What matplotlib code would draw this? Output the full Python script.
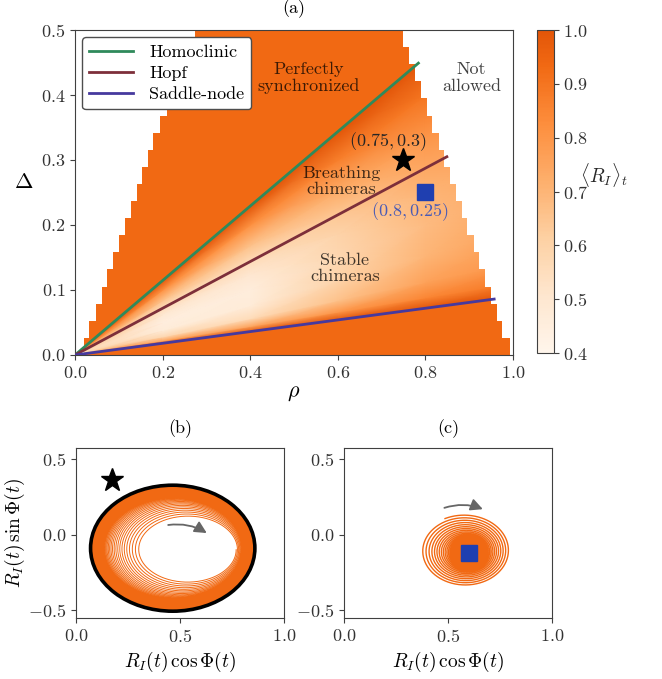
import numpy as np
import matplotlib
matplotlib.use('Agg')
import matplotlib.pyplot as plt
from matplotlib.colors import ListedColormap, Normalize
from matplotlib.path import Path
from matplotlib.patches import PathPatch, Ellipse
from matplotlib.cm import ScalarMappable

plt.rcParams.update({
    'font.family': 'serif',
    'font.serif': ['cmr10'],
    'mathtext.fontset': 'cm',
    'axes.formatter.use_mathtext': True,
    'font.size': 13,
    'axes.edgecolor': '0.25',
    'xtick.color': '0.25',
    'ytick.color': '0.25',
    'xtick.labelcolor': '0.2',
    'ytick.labelcolor': '0.2',
})

# ---- panel (a) data ----
# allowed region: rows of cells of height 0.5/19 in Delta, left/right rho bound of each row
row_h = 0.5 / 19
left_bound = [0.020, 0.033, 0.048, 0.061, 0.074, 0.087, 0.100, 0.114, 0.128, 0.141,
              0.154, 0.167, 0.179, 0.193, 0.209, 0.225, 0.241, 0.257, 0.274]
right_bound = [0.994, 0.976, 0.963, 0.950, 0.936, 0.923, 0.910, 0.896, 0.883, 0.870,
               0.856, 0.843, 0.830, 0.816, 0.803, 0.790, 0.776, 0.763, 0.750]

# bifurcation lines
homoclinic_rho, homoclinic_delta = [0.0, 0.784], [0.0, 0.449]
hopf_rho, hopf_delta = [0.0, 0.849], [0.0, 0.305]
saddle_rho, saddle_delta = [0.0, 0.957], [0.0, 0.086]

# <R_I>_t inside the chimera wedge: rows = Delta/rho, columns = rho
wedge_ratio = [0.0899, 0.11, 0.14, 0.19, 0.25, 0.31, 0.359, 0.42, 0.50, 0.5727]
wedge_rho = [0.0, 0.2, 0.4, 0.6, 0.8, 1.0]
wedge_R = [
    [1.00, 1.00, 1.00, 1.00, 1.00, 1.00],
    [0.85, 0.75, 0.75, 0.80, 0.85, 0.88],
    [0.72, 0.58, 0.56, 0.66, 0.76, 0.80],
    [0.62, 0.47, 0.47, 0.60, 0.70, 0.76],
    [0.60, 0.45, 0.46, 0.58, 0.68, 0.74],
    [0.63, 0.49, 0.50, 0.60, 0.70, 0.76],
    [0.68, 0.56, 0.56, 0.64, 0.74, 0.80],
    [0.76, 0.66, 0.66, 0.73, 0.80, 0.85],
    [0.88, 0.82, 0.82, 0.87, 0.90, 0.92],
    [1.00, 1.00, 1.00, 1.00, 1.00, 1.00],
]

star_pt = (0.75, 0.3)
square_pt = (0.8, 0.25)

# ---- panel (b) / (c) data ----
b_inner_c, b_inner_ab = (0.54, -0.10), (0.23, 0.21)
b_outer_c, b_outer_ab = (0.465, -0.09), (0.395, 0.415)
b_star = (0.172, 0.358)
c_outer_c, c_outer_ab = (0.58, -0.106), (0.215, 0.235)
c_fixed = (0.603, -0.122)

orange = '#f16913'
cmap = ListedColormap(plt.cm.Oranges(np.linspace(0, 0.7, 256)))
norm = Normalize(0.4, 1.0)

fig = plt.figure(figsize=(6.62, 6.79), dpi=100)
ax = fig.add_axes([0.1133, 0.4772, 0.6616, 0.4786])
cax = fig.add_axes([0.8112, 0.4801, 0.0251, 0.4757])
axb = fig.add_axes([0.1148, 0.0898, 0.3142, 0.2504])
axc = fig.add_axes([0.5196, 0.0898, 0.3142, 0.2504])

# staircase outline of the allowed region
verts = []
for k, lb in enumerate(left_bound):
    verts += [(lb, k * row_h), (lb, (k + 1) * row_h)]
for k in range(len(right_bound) - 1, -1, -1):
    verts += [(right_bound[k], (k + 1) * row_h), (right_bound[k], k * row_h)]
verts.append(verts[0])
region = PathPatch(Path(verts, closed=True), facecolor=orange, edgecolor='none', zorder=1)
ax.add_patch(region)

X = np.tile(wedge_rho, (len(wedge_ratio), 1))
Y = np.outer(wedge_ratio, wedge_rho)
mesh = ax.pcolormesh(X, Y, np.array(wedge_R), shading='gouraud', cmap=cmap, norm=norm, zorder=2)
clip = PathPatch(Path(verts, closed=True), transform=ax.transData)
mesh.set_clip_path(clip)

ax.plot(homoclinic_rho, homoclinic_delta, color='#2f8a5b', lw=2, label='Homoclinic', zorder=3)
ax.plot(hopf_rho, hopf_delta, color='#7d2f3a', lw=2, label='Hopf', zorder=3)
ax.plot(saddle_rho, saddle_delta, color='#46399e', lw=2, label='Saddle-node', zorder=3)

ax.plot(*star_pt, marker='*', color='k', ms=17, zorder=4)
ax.plot(*square_pt, marker='s', color='#1f3fb0', ms=11, zorder=4)
ax.text(0.715, 0.328, r'$(0.75, 0.3)$', ha='center', va='center', color='0.15', zorder=5)
ax.text(0.765, 0.2205, r'$(0.8, 0.25)$', ha='center', va='center', color='#4a5bb5', zorder=5)

txt = dict(ha='center', va='center', color='k', alpha=0.75, zorder=5, linespacing=1.1)
ax.text(0.533, 0.426, 'Perfectly\nsynchronized', **txt)
ax.text(0.905, 0.426, 'Not\nallowed', **txt)
ax.text(0.609, 0.267, 'Breathing\nchimeras', **txt)
ax.text(0.616, 0.133, 'Stable\nchimeras', **txt)

ax.set_xlim(0, 1)
ax.set_ylim(0, 0.5)
ax.set_xticks([0, 0.2, 0.4, 0.6, 0.8, 1.0])
ax.set_yticks([0, 0.1, 0.2, 0.3, 0.4, 0.5])
ax.set_xlabel(r'$\rho$', fontsize=16, labelpad=2)
ax.set_ylabel(r'$\Delta$', fontsize=16, rotation=0, labelpad=12)
ax.set_title('(a)', fontsize=13, pad=12)
ax.legend(loc='upper left', handlelength=2.4, framealpha=1, edgecolor='0.3', fancybox=True,
          borderaxespad=0.4, handletextpad=0.9, labelspacing=0.3)

cb = fig.colorbar(ScalarMappable(norm=norm, cmap=cmap), cax=cax, ticks=[0.4, 0.5, 0.6, 0.7, 0.8, 0.9, 1.0])
cb.outline.set_edgecolor('0.25')
cax.text(4.0, 0.55, r'$\langle R_I\rangle_t$', transform=cax.transAxes, ha='center', va='center',
         fontsize=14, color='0.15')

# ---- panel (b): trajectory spiralling out to the limit cycle ----
th = np.linspace(0, 2 * np.pi * 70, 30000)
f = 1 - np.exp(-th / (2 * np.pi * 14))
cx = b_inner_c[0] + (b_outer_c[0] - b_inner_c[0]) * f
cy = b_inner_c[1] + (b_outer_c[1] - b_inner_c[1]) * f
aa = b_inner_ab[0] + (b_outer_ab[0] - b_inner_ab[0]) * f
bb = b_inner_ab[1] + (b_outer_ab[1] - b_inner_ab[1]) * f
axb.plot(cx + aa * np.cos(-th), cy + bb * np.sin(-th), color=orange, lw=0.7, zorder=2)
axb.add_patch(Ellipse(b_outer_c, 2 * b_outer_ab[0], 2 * b_outer_ab[1], fill=False,
                      edgecolor='k', lw=2.6, zorder=3))
axb.plot(*b_star, marker='*', color='k', ms=17, zorder=4)
axb.annotate('', xy=(0.64, 0.0), xytext=(0.43, 0.06),
             arrowprops=dict(arrowstyle='-|>', color='0.4', lw=1.3, mutation_scale=18,
                             connectionstyle='arc3,rad=-0.2'))
axb.set_title('(b)', fontsize=13, pad=11)
axb.set_ylabel(r'$R_I(t)\,\sin\Phi(t)$', fontsize=14, labelpad=1)

# ---- panel (c): trajectory spiralling in to the fixed point ----
th = np.linspace(0, 2 * np.pi * 45, 30000)
f = 0.93 ** (th / (2 * np.pi))
ang = np.deg2rad(116) - th
cx = c_fixed[0] + (c_outer_c[0] - c_fixed[0]) * f
cy = c_fixed[1] + (c_outer_c[1] - c_fixed[1]) * f
axc.plot(cx + c_outer_ab[0] * f * np.cos(ang), cy + c_outer_ab[1] * f * np.sin(ang),
         color=orange, lw=1.0)
axc.plot(*c_fixed, marker='s', color='#1f3fb0', ms=12)
axc.annotate('', xy=(0.68, 0.16), xytext=(0.47, 0.17),
             arrowprops=dict(arrowstyle='-|>', color='0.4', lw=1.3, mutation_scale=18,
                             connectionstyle='arc3,rad=-0.2'))
axc.set_title('(c)', fontsize=13, pad=11)

for a in (axb, axc):
    a.set_xlim(0, 1)
    a.set_ylim(-0.55, 0.57)
    a.set_xticks([0, 0.5, 1.0])
    a.set_yticks([-0.5, 0, 0.5])
    a.set_xlabel(r'$R_I(t)\,\cos\Phi(t)$', fontsize=14)

fig.savefig('out.png', dpi=100)
